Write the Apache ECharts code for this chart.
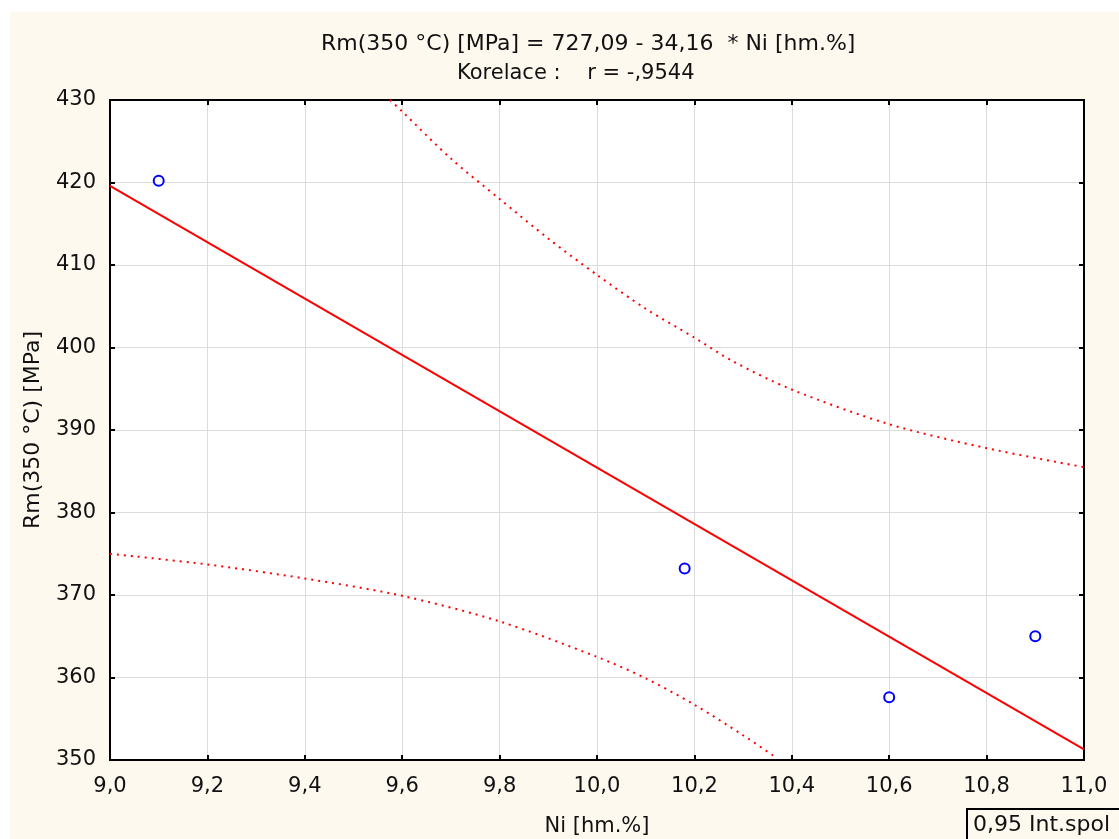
<!DOCTYPE html>
<html>
<head>
<meta charset="utf-8">
<script src="https://cdn.jsdelivr.net/npm/echarts@6/dist/echarts.min.js"></script>
<style>
html,body{margin:0;padding:0;background:#fff;}
#wrap{position:relative;width:1119px;height:839px;}
#cream{position:absolute;left:10px;top:12px;right:0;bottom:0;background:#fef9ef;}
#chart{position:absolute;left:0;top:0;width:1119px;height:839px;}
</style>
</head>
<body>
<div id="wrap"><div id="cream"></div><div id="chart"></div></div>
<script>
const titleLine1 = 'Rm(350 °C) [MPa] = 727,09 - 34,16  * Ni [hm.%]';
const titleLine2 = 'Korelace :    r = -,9544';
const xName = 'Ni [hm.%]';
const yName = 'Rm(350 °C) [MPa]';
const legendText = '0,95 Int.spol';

const niValues = [9.1, 10.18, 10.6, 10.9];
const rmValues = [420.2, 373.2, 357.6, 365.0];

const fitX = [9.0, 11.0];
const fitY = [419.6, 351.3];

const upperBandX = [9.575, 9.6, 9.7, 9.8, 9.9, 10.0, 10.1, 10.2, 10.28, 10.4, 10.6, 10.8, 11.0];
const upperBandY = [430, 428.6, 422.9, 418.0, 413.2, 408.8, 404.7, 401.2, 398.3, 394.9, 390.7, 387.8, 385.5];

const lowerBandX = [9.0, 9.2, 9.4, 9.6, 9.8, 10.0, 10.1, 10.2, 10.3, 10.37];
const lowerBandY = [375.0, 373.7, 372.0, 369.9, 366.8, 362.5, 359.9, 356.7, 353.0, 350.2];

const xMin = 9.0, xMax = 11.0, xStep = 0.2;
const yMin = 350, yMax = 430, yStep = 10;

const zip = (a, b) => a.map((v, i) => [v, b[i]]);
const FONT = 'DejaVu Sans, Verdana, sans-serif';

const chart = echarts.init(document.getElementById('chart'), null, {renderer: 'canvas'});

const axisCommon = {
  axisLine: {show: true, onZero: false, lineStyle: {color: '#000', width: 2}},
  axisTick: {show: true, inside: true, length: 5, lineStyle: {color: '#000', width: 2}},
};

chart.setOption({
  backgroundColor: 'transparent',
  animation: false,
  title: [
    {text: titleLine1, left: 316, top: 28,
     textStyle: {fontFamily: FONT, fontSize: 22, fontWeight: 'normal', color: '#111'}},
    {text: titleLine2, left: 452, top: 58,
     textStyle: {fontFamily: FONT, fontSize: 21, fontWeight: 'normal', color: '#111'}}
  ],
  grid: {left: 110, right: 35, top: 100, bottom: 79, show: true,
         containLabel: false, outerBoundsMode: 'none',
         backgroundColor: '#ffffff', borderColor: '#000', borderWidth: 2},
  xAxis: [
    Object.assign({
      type: 'value', min: xMin, max: xMax, interval: xStep, position: 'bottom',
      name: xName, nameLocation: 'middle', nameGap: 56,
      nameTextStyle: {fontFamily: FONT, fontSize: 21, color: '#111'},
      axisLabel: {fontFamily: FONT, fontSize: 21, color: '#111', margin: 16,
                  formatter: v => v.toFixed(1).replace('.', ',')},
      splitLine: {show: true, lineStyle: {color: '#dcdcdc', width: 1}}
    }, axisCommon),
    Object.assign({
      type: 'value', min: xMin, max: xMax, interval: xStep, position: 'top',
      axisLabel: {show: false}, splitLine: {show: false}
    }, axisCommon)
  ],
  yAxis: [
    Object.assign({
      type: 'value', min: yMin, max: yMax, interval: yStep, position: 'left',
      name: yName, nameLocation: 'middle', nameGap: 66, nameRotate: 90,
      nameTextStyle: {fontFamily: FONT, fontSize: 22, color: '#111'},
      axisLabel: {fontFamily: FONT, fontSize: 21, color: '#111', margin: 14},
      splitLine: {show: true, lineStyle: {color: '#dcdcdc', width: 1}}
    }, axisCommon),
    Object.assign({
      type: 'value', min: yMin, max: yMax, interval: yStep, position: 'right',
      axisLabel: {show: false}, splitLine: {show: false}
    }, axisCommon)
  ],
  series: [
    {type: 'line', data: zip(fitX, fitY), symbol: 'none', z: 3,
     lineStyle: {color: '#ff0000', width: 2}},
    {type: 'line', data: zip(upperBandX, upperBandY), symbol: 'none', smooth: 0.3, z: 3,
     lineStyle: {color: '#ff0000', width: 2, type: [2, 5]}},
    {type: 'line', data: zip(lowerBandX, lowerBandY), symbol: 'none', smooth: 0.3, z: 3,
     lineStyle: {color: '#ff0000', width: 2, type: [2, 5]}},
    {type: 'scatter', data: zip(niValues, rmValues), symbol: 'circle', symbolSize: 10, z: 4,
     itemStyle: {color: '#ffffff', borderColor: '#0000ff', borderWidth: 2, opacity: 1}}
  ],
  graphic: [
    {type: 'group', left: 966, top: 808, children: [
      {type: 'rect', shape: {x: 0, y: 0, width: 160, height: 40},
       style: {fill: 'transparent', stroke: '#000', lineWidth: 2}},
      {type: 'text', x: 6, y: 5,
       style: {text: legendText, fontFamily: FONT, fontSize: 22, fill: '#111'}}
    ]}
  ]
});
</script>
</body>
</html>
